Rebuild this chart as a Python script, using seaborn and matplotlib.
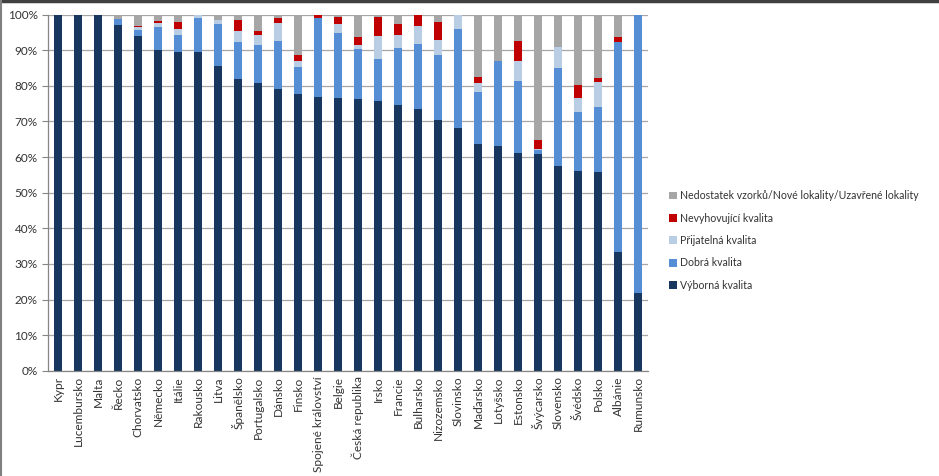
import matplotlib
matplotlib.use('Agg')
import matplotlib.pyplot as plt
import matplotlib.ticker as mticker
from matplotlib.lines import Line2D
import numpy as np
import pandas as pd
import seaborn as sns

countries = ['Kypr', 'Lucembursko', 'Malta', 'Řecko', 'Chorvatsko', 'Německo', 'Itálie',
             'Rakousko', 'Litva', 'Španělsko', 'Portugalsko', 'Dánsko', 'Finsko',
             'Spojené království', 'Belgie', 'Česká republika', 'Irsko', 'Francie',
             'Bulharsko', 'Nizozemsko', 'Slovinsko', 'Maďarsko', 'Lotyšsko', 'Estonsko',
             'Švýcarsko', 'Slovensko', 'Švédsko', 'Polsko', 'Albánie', 'Rumunsko']

vyborna = [100, 100, 100, 97.0, 94.0, 90.0, 89.6, 89.4, 85.7, 81.9, 80.9, 79.2, 77.7,
           77.0, 76.5, 76.3, 75.8, 74.6, 73.5, 70.4, 68.1, 63.6, 63.2, 61.2, 60.9, 57.6,
           56.1, 55.7, 33.4, 21.9]
dobra = [0, 0, 0, 1.7, 1.7, 6.5, 4.7, 9.6, 11.7, 10.3, 10.6, 13.5, 7.7,
         22.0, 18.3, 14.1, 11.8, 16.1, 18.2, 18.3, 27.8, 14.7, 23.9, 20.3, 1.1, 27.3,
         16.7, 18.5, 59.0, 78.1]
prijatelna = [0, 0, 0, 0, 0.9, 1.3, 1.8, 1.0, 1.1, 3.3, 2.8, 5.1, 1.7,
              0, 2.6, 1.1, 6.4, 3.6, 5.1, 4.2, 4.1, 2.6, 0, 5.4, 0.3, 5.9,
              3.9, 7.0, 0, 0]
nevyhovujici = [0, 0, 0, 0, 0.3, 0.5, 1.9, 0, 0, 3.0, 1.2, 1.3, 1.6,
                1.0, 2.0, 2.1, 5.4, 3.1, 3.2, 5.0, 0, 1.7, 0, 5.8, 2.5, 0,
                3.5, 1.1, 1.4, 0]
nedostatek = [0, 0, 0, 1.3, 3.1, 1.7, 2.0, 0, 1.5, 1.5, 4.5, 0.9, 11.3,
              0, 0.6, 6.4, 0.6, 2.6, 0, 2.1, 0, 17.4, 12.9, 7.3, 35.2, 9.2,
              19.8, 17.7, 6.2, 0]

series = ['Výborná kvalita', 'Dobrá kvalita', 'Přijatelná kvalita',
          'Nevyhovující kvalita', 'Nedostatek vzorků/Nové lokality/Uzavřené lokality']
colors = ['#17375E', '#558ED5', '#B9CDE5', '#C00000', '#A6A6A6']

df = pd.DataFrame({'zeme': countries, series[0]: vyborna, series[1]: dobra,
                   series[2]: prijatelna, series[3]: nevyhovujici, series[4]: nedostatek})
cum = df[series].cumsum(axis=1)
cum['zeme'] = df['zeme']

sns.set_style('white')
plt.rcParams['font.family'] = ['Lato', 'DejaVu Sans']

fig = plt.figure(figsize=(9.39, 4.76), dpi=100)
ax = fig.add_axes([48 / 939, 1 - 370.7 / 476, 600 / 939, 356 / 476])

# stacked bars: draw cumulative totals from the top layer down
for name, col in zip(series[::-1], colors[::-1]):
    sns.barplot(x='zeme', y=name, data=cum, color=col, saturation=1, width=0.42,
                ax=ax, label=name, linewidth=0)

ax.set_ylim(0, 100)
ax.set_xlim(-0.5, len(countries) - 0.5)
ax.set_yticks(np.arange(0, 101, 10))
ax.yaxis.set_major_formatter(mticker.FuncFormatter(lambda v, p: f'{int(v)}%'))
ax.yaxis.grid(True, color='#a6a6a6', linewidth=0.9)
ax.set_axisbelow(True)
ax.set_xlabel('')
ax.set_ylabel('')

for s in ['top', 'right']:
    ax.spines[s].set_visible(False)
for s in ['left', 'bottom']:
    ax.spines[s].set_color('#868686')
    ax.spines[s].set_linewidth(0.9)

ax.tick_params(axis='x', which='major', length=0, labelsize=8.6, labelcolor='#333333',
               rotation=90, pad=4)
ax.set_xticks(np.arange(-0.5, len(countries), 1), minor=True)
ax.tick_params(axis='x', which='minor', length=4, color='#868686', direction='out')
ax.tick_params(axis='y', length=4, color='#868686', direction='out', labelsize=8.5,
               labelcolor='#333333', left=True)

ax.legend(loc='upper left', bbox_to_anchor=(665 / 939, 1 - 186 / 476),
          bbox_transform=fig.transFigure, frameon=False, fontsize=7.6,
          handlelength=0.75, handleheight=0.75, handletextpad=0.3, labelspacing=1.08,
          borderaxespad=0, labelcolor='#333333')

# chart frame (top and left edges visible in the reference)
fig.add_artist(Line2D([0, 1], [0.998, 0.998], transform=fig.transFigure,
                      color='#404040', linewidth=2.5))
fig.add_artist(Line2D([0.0015, 0.0015], [0, 1], transform=fig.transFigure,
                      color='#808080', linewidth=1.5))

fig.savefig('out.png', dpi=100)
